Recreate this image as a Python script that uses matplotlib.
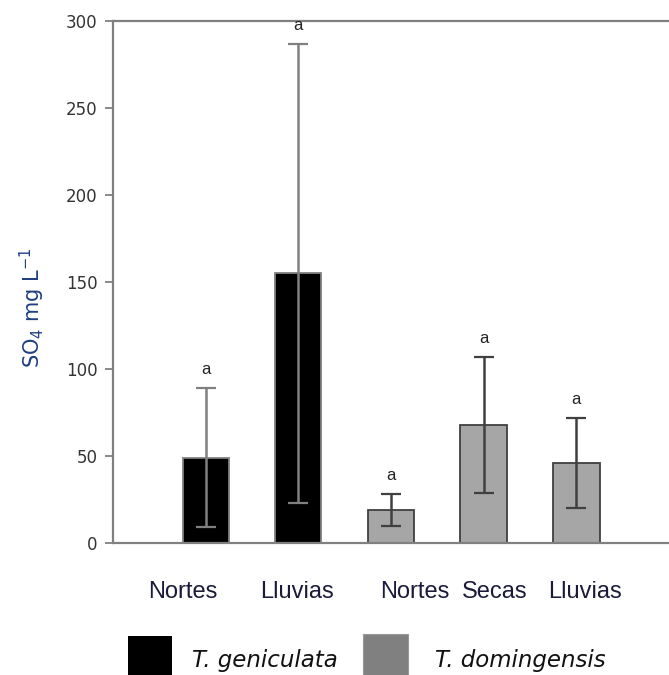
import matplotlib
matplotlib.use("Agg")
import matplotlib.pyplot as plt
from matplotlib.patches import Rectangle

categories = ["Nortes", "Lluvias", "Nortes", "Secas", "Lluvias"]
species = ["T. geniculata", "T. geniculata", "T. domingensis", "T. domingensis", "T. domingensis"]
means = [49, 155, 19, 68, 46]
errors = [40, 132, 9, 39, 26]
letters = ["a", "a", "a", "a", "a"]
yticks = [0, 50, 100, 150, 200, 250, 300]

plt.rcParams['mathtext.fontset'] = 'dejavusans'

W, H = 669, 675
fig = plt.figure(figsize=(W / 100, H / 100), dpi=100)
ax = fig.add_axes([113 / W, 132 / H, 1 - 113 / W, (543 - 21) / H])

fill = {"T. geniculata": "#000000", "T. domingensis": "#A6A6A6"}
edge = {"T. geniculata": "#808080", "T. domingensis": "#404040"}
errc = {"T. geniculata": "#808080", "T. domingensis": "#404040"}

xs = list(range(1, len(means) + 1))
for x, m, e, sp in zip(xs, means, errors, species):
    ax.bar(x, m, width=0.5, color=fill[sp], edgecolor=edge[sp], linewidth=1.3, zorder=2)
    ax.errorbar(x, m, yerr=e, color=errc[sp], elinewidth=1.8, capsize=7.5,
                capthick=1.6, zorder=3)
    top = m + e
    ax.annotate(letters[x - 1], (x, top), xytext=(0, 8), textcoords='offset points',
                ha='center', va='bottom', fontsize=12, family='Liberation Sans',
                color='#222222', annotation_clip=False)

ax.set_xlim(0, 6)
ax.set_ylim(0, 300)
ax.set_yticks(yticks)
ax.set_yticklabels([str(t) for t in yticks], family='DejaVu Sans', fontsize=12, color='#333333')
ax.set_xticks([])
for s in ['left', 'top', 'bottom']:
    ax.spines[s].set_color('#808080')
    ax.spines[s].set_linewidth(1.6)
ax.spines['right'].set_visible(False)
ax.tick_params(axis='y', direction='out', length=6, width=1.3, color='#808080', pad=5)

fig.text(32 / W, 1 - 308 / H, r'SO$_4$ mg L$^{-1}$', rotation=90, ha='center', va='center',
         family='DejaVu Sans', fontsize=15, color='#1F3F7F')

# category labels
label_px = [183, 297, 415, 495, 585]
for lab, px in zip(categories, label_px):
    fig.text(px / W, 1 - 592 / H, lab, ha='center', va='center', family='Liberation Sans',
             fontsize=17, color='#1a1a3a')

# legend
fig.patches.append(Rectangle((128 / W, 0), 44 / W, (H - 636) / H, transform=fig.transFigure,
                             facecolor='#000000', edgecolor='none'))
fig.patches.append(Rectangle((363 / W, 0), 45 / W, (H - 634) / H, transform=fig.transFigure,
                             facecolor='#808080', edgecolor='#999999', linewidth=0.8))
fig.text(192 / W, 1 - 667 / H, "T. geniculata", ha='left', va='baseline', family='DejaVu Sans',
         style='italic', fontsize=16.5, color='#111111')
fig.text(435 / W, 1 - 667 / H, "T. domingensis", ha='left', va='baseline', family='DejaVu Sans',
         style='italic', fontsize=16.5, color='#111111')

fig.savefig("out.png", dpi=100)
